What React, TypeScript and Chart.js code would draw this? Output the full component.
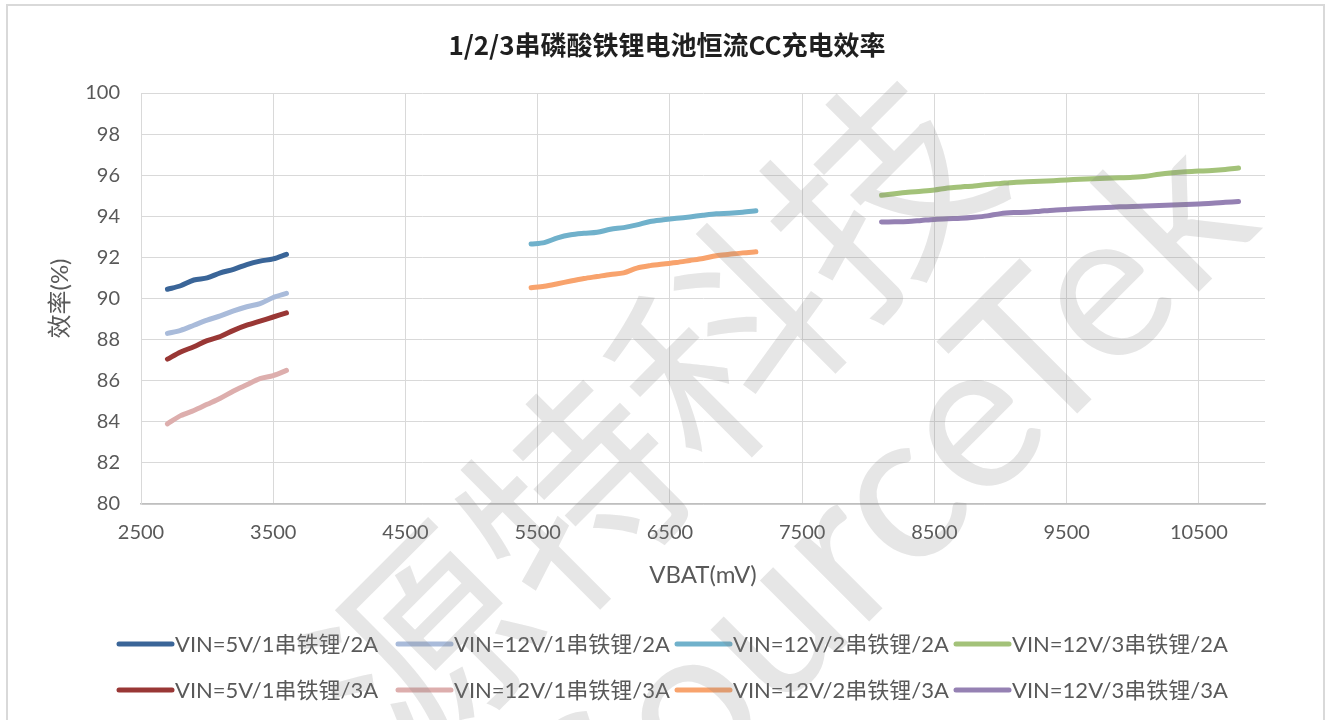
import React, { useEffect, useRef } from "react";
import { Chart, registerables } from "chart.js";

Chart.register(...registerables);

const TITLE = "1/2/3串磷酸铁锂电池恒流CC充电效率";
const X_TITLE = "VBAT(mV)";
const Y_TITLE = "效率(%)";
const X_MIN = 2500;
const X_MAX = 11000;
const X_TICKS = [2500, 3500, 4500, 5500, 6500, 7500, 8500, 9500, 10500];
const Y_MIN = 80;
const Y_MAX = 100;
const Y_STEP = 2;

// VBAT (mV) sample points per battery-string group
const vbat1S = [2700, 2800, 2900, 3000, 3100, 3200, 3300, 3400, 3500, 3600];
const vbat2S = [5450, 5550, 5650, 5750, 5850, 5950, 6050, 6150, 6250, 6350, 6450, 6550, 6650, 6750, 6850, 6950, 7050, 7150];
const vbat3S = [8100, 8200, 8300, 8400, 8500, 8600, 8700, 8800, 8900, 9000, 9100, 9200, 9300, 9400, 9500, 9600, 9700, 9800, 9900, 10000, 10100, 10200, 10300, 10400, 10500, 10600, 10700, 10800];

// Efficiency (%)
const eff5V1S2A = [90.45, 90.62, 90.9, 91.0, 91.25, 91.42, 91.65, 91.82, 91.93, 92.15];
const eff12V1S2A = [88.3, 88.45, 88.7, 88.95, 89.15, 89.4, 89.6, 89.75, 90.05, 90.25];
const eff12V2S2A = [92.65, 92.72, 92.95, 93.1, 93.17, 93.22, 93.37, 93.45, 93.58, 93.75, 93.83, 93.9, 93.97, 94.05, 94.12, 94.15, 94.2, 94.27];
const eff12V3S2A = [95.02, 95.1, 95.17, 95.22, 95.28, 95.38, 95.43, 95.48, 95.55, 95.6, 95.65, 95.68, 95.7, 95.73, 95.77, 95.8, 95.83, 95.85, 95.87, 95.9, 95.95, 96.05, 96.12, 96.17, 96.2, 96.23, 96.28, 96.35];
const eff5V1S3A = [87.05, 87.4, 87.65, 87.95, 88.15, 88.45, 88.7, 88.9, 89.1, 89.3];
const eff12V1S3A = [83.9, 84.3, 84.55, 84.85, 85.15, 85.5, 85.8, 86.1, 86.25, 86.5];
const eff12V2S3A = [90.52, 90.6, 90.72, 90.85, 90.97, 91.07, 91.17, 91.25, 91.48, 91.6, 91.68, 91.75, 91.85, 91.95, 92.08, 92.15, 92.22, 92.27];
const eff12V3S3A = [93.72, 93.73, 93.75, 93.8, 93.85, 93.88, 93.9, 93.95, 94.02, 94.13, 94.18, 94.2, 94.25, 94.3, 94.33, 94.37, 94.4, 94.43, 94.46, 94.48, 94.5, 94.52, 94.55, 94.57, 94.6, 94.63, 94.68, 94.72];

const SERIES_LABELS = [
  "VIN=5V/1串铁锂/2A",
  "VIN=12V/1串铁锂/2A",
  "VIN=12V/2串铁锂/2A",
  "VIN=12V/3串铁锂/2A",
  "VIN=5V/1串铁锂/3A",
  "VIN=12V/1串铁锂/3A",
  "VIN=12V/2串铁锂/3A",
  "VIN=12V/3串铁锂/3A",
];
const SERIES_X = [vbat1S, vbat1S, vbat2S, vbat3S, vbat1S, vbat1S, vbat2S, vbat3S];
const SERIES_Y = [eff5V1S2A, eff12V1S2A, eff12V2S2A, eff12V3S2A, eff5V1S3A, eff12V1S3A, eff12V2S3A, eff12V3S3A];
const SERIES_COLORS = ["#3A6598", "#A9BBDA", "#70B1CB", "#A3C279", "#993735", "#DDAEAD", "#F8A36D", "#9581B3"];

const WATERMARK_CN = "源特科技";
const WATERMARK_EN = "SourceTek";

const TEXT_COLOR = "#595959";
const LATIN = "Lato, 'Noto Sans CJK SC', sans-serif";
const CJK = "'Noto Sans CJK SC', Lato, sans-serif";

const decorPlugin = {
  id: "decor",
  afterDraw(chart: any) {
    const ctx = chart.ctx as CanvasRenderingContext2D;
    const area = chart.chartArea;
    ctx.save();
    // outer frame
    ctx.strokeStyle = "#D9D9D9";
    ctx.lineWidth = 2;
    ctx.strokeRect(7, 5, 1317, 730);

    // title
    ctx.fillStyle = "#1F1F1F";
    ctx.font = "bold 26px " + CJK;
    ctx.textAlign = "center";
    ctx.textBaseline = "middle";
    ctx.fillText(TITLE, (area.left + area.right) / 2 - 36, 45);

    // axis titles
    ctx.fillStyle = TEXT_COLOR;
    ctx.font = "24px " + LATIN;
    ctx.fillText(X_TITLE, (area.left + area.right) / 2, 575);
    ctx.save();
    ctx.translate(60, (area.top + area.bottom) / 2);
    ctx.rotate(-Math.PI / 2);
    ctx.fillText(Y_TITLE, 0, 0);
    ctx.restore();

    // legend (4 equal columns x 2 rows)
    const ds = chart.data.datasets;
    ctx.textAlign = "left";
    ctx.font = "22px " + LATIN;
    for (let i = 0; i < ds.length; i++) {
      const col = i % 4;
      const row = Math.floor(i / 4);
      const x0 = 117 + col * 279;
      const y0 = 644 + row * 46;
      ctx.strokeStyle = ds[i].borderColor;
      ctx.lineWidth = 5;
      ctx.lineCap = "round";
      ctx.beginPath();
      ctx.moveTo(x0 + 2, y0);
      ctx.lineTo(x0 + 55, y0);
      ctx.stroke();
      ctx.fillStyle = TEXT_COLOR;
      ctx.fillText(ds[i].label, x0 + 58, y0 + 1);
    }

    // watermark
    ctx.fillStyle = "rgba(128,128,128,0.2)";
    ctx.textAlign = "center";
    ctx.textBaseline = "middle";
    ctx.save();
    ctx.translate(650, 420);
    ctx.rotate(-Math.PI / 4);
    ctx.font = "215px " + CJK;
    ctx.fillText(WATERMARK_CN, 0, 0);
    ctx.restore();
    ctx.save();
    ctx.translate(890, 505);
    ctx.rotate(-Math.PI / 4);
    ctx.font = "210px " + LATIN;
    ctx.fillText(WATERMARK_EN, 0, 0);
    ctx.restore();

    ctx.restore();
  },
};

export default function App() {
  const ref = useRef<HTMLCanvasElement | null>(null);
  useEffect(() => {
    if (!ref.current) return;
    const datasets = SERIES_LABELS.map((label, i) => ({
      label,
      data: SERIES_X[i].map((x, j) => ({ x, y: SERIES_Y[i][j] })),
      borderColor: SERIES_COLORS[i],
      backgroundColor: SERIES_COLORS[i],
      borderWidth: 5,
      borderCapStyle: "round" as const,
      borderJoinStyle: "round" as const,
      pointRadius: 0,
      tension: 0.3,
      fill: false,
    }));
    const chart = new Chart(ref.current, {
      type: "line",
      data: { datasets },
      plugins: [decorPlugin],
      options: {
        animation: false,
        responsive: false,
        maintainAspectRatio: false,
        layout: { padding: { top: 93, right: 64, left: 0, bottom: 0 } },
        plugins: {
          legend: { display: false },
          title: { display: false },
          tooltip: { enabled: false },
        },
        scales: {
          x: {
            type: "linear",
            min: X_MIN,
            max: X_MAX,
            afterBuildTicks: (s: any) => {
              s.ticks = X_TICKS.map((v) => ({ value: v }));
            },
            afterFit: (s: any) => {
              s.height = 216;
            },
            grid: { color: "#D9D9D9", lineWidth: 1, drawTicks: false },
            border: { color: "#BFBFBF", width: 1.5 },
            ticks: {
              color: TEXT_COLOR,
              font: { family: LATIN, size: 20 },
              padding: 17,
              maxRotation: 0,
              callback: (v: any) => String(v),
            },
          },
          y: {
            min: Y_MIN,
            max: Y_MAX,
            afterFit: (s: any) => {
              s.width = 141;
            },
            grid: { color: "#D9D9D9", lineWidth: 1, drawTicks: false },
            border: { color: "#D9D9D9", width: 1 },
            ticks: {
              stepSize: Y_STEP,
              color: TEXT_COLOR,
              font: { family: LATIN, size: 20 },
              padding: 21,
            },
          },
        },
      },
    });
    return () => chart.destroy();
  }, []);
  return (
    <div style={{ position: "absolute", left: 0, top: 0, width: 1329, height: 720, background: "#fff" }}>
      <canvas ref={ref} width={1329} height={720} style={{ width: 1329, height: 720, display: "block" }} />
    </div>
  );
}
